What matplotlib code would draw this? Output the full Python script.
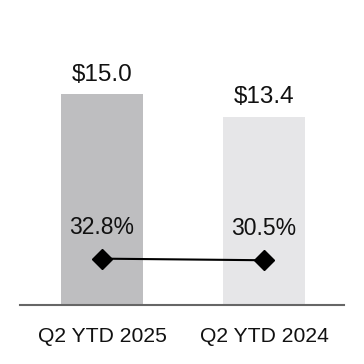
import matplotlib
matplotlib.use("Agg")
import matplotlib.pyplot as plt

categories = ["Q2 YTD 2025", "Q2 YTD 2024"]
revenue = [15.0, 13.4]
revenue_labels = ["$15.0", "$13.4"]
margin = [32.8, 30.5]
margin_labels = ["32.8%", "30.5%"]
bar_colors = ["#BEBEC0", "#E6E6E8"]

plt.rcParams['font.family'] = ['Liberation Sans', 'DejaVu Sans']

W = H = 364
fig = plt.figure(figsize=(W / 100, H / 100), dpi=100)
ax_left, ax_right = 20, 344
ax_bottom, ax_top = 305, 20
ax = fig.add_axes([ax_left / W, 1 - ax_bottom / H, (ax_right - ax_left) / W, (ax_bottom - ax_top) / H])

x = [0, 1]
ax.bar(x, revenue, width=0.506, color=bar_colors, zorder=1)
ax.set_xlim(-0.506, 1.494)
ax.set_ylim(0, 20.26)
for xi, v, lab in zip(x, revenue, revenue_labels):
    ax.text(xi, v + 0.93, lab, ha='center', va='baseline', fontsize=17.5, color='#111111')

for s in ['top', 'right', 'left']:
    ax.spines[s].set_visible(False)
ax.spines['bottom'].set_color('#666666')
ax.spines['bottom'].set_linewidth(1.5)
ax.set_yticks([])
ax.set_xticks(x)
ax.set_xticklabels(categories, fontsize=15.2, color='#111111')
ax.tick_params(axis='x', length=0, pad=15.5)

ax2 = ax.twinx()
ax2.set_ylim(-33.8, 375.7)
ax2.plot(x, margin, color='black', lw=1.5, marker='D', markersize=10, zorder=3)
for xi, v, lab in zip(x, margin, margin_labels):
    ax2.text(xi, v + 36, lab, ha='center', va='baseline', fontsize=16.5, color='#111111')
ax2.axis('off')

fig.savefig("out.png", dpi=100, facecolor='white')
